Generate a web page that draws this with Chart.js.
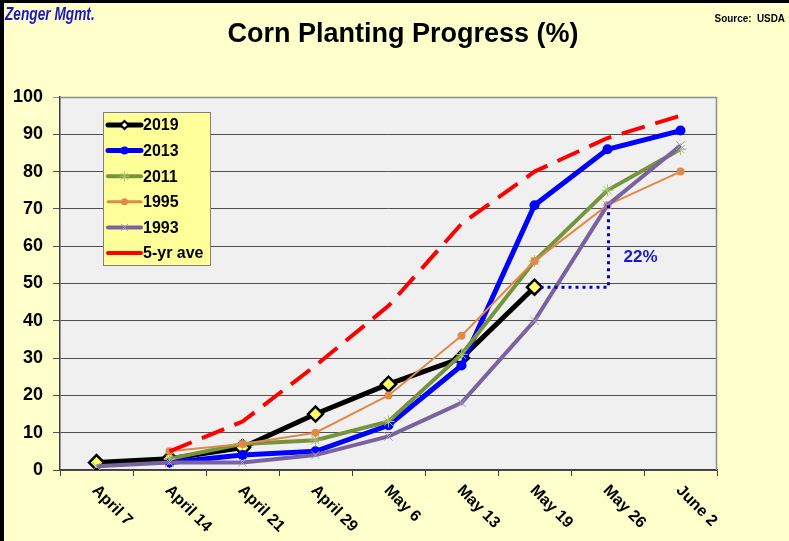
<!DOCTYPE html>
<html>
<head>
<meta charset="utf-8">
<script src="https://cdn.jsdelivr.net/npm/chart.js@4.4.1/dist/chart.umd.min.js"></script>
<style>
  html, body { margin: 0; padding: 0; background: #ffffcc; }
  #wrap { position: relative; width: 789px; height: 541px; overflow: hidden; }
  canvas { display: block; }
</style>
</head>
<body>
<div id="wrap"><canvas id="c" width="789" height="541"></canvas></div>
<script>
// ---- Data ----
const categories = ['April 7', 'April 14', 'April 21', 'April 29', 'May 6', 'May 13', 'May 19', 'May 26', 'June 2'];
const yTicks = [0, 10, 20, 30, 40, 50, 60, 70, 80, 90, 100];
const seriesNames = ['2019', '2013', '2011', '1995', '1993', '5-yr ave'];
const y2019 = [2, 3, 6, 15, 23, 30, 49, null, null];
const y2013 = [null, 2, 4, 5, 12, 28, 71, 86, 91];
const y2011 = [null, 3, 7, 8, 13, 31, 56, 75, 86];
const y1995 = [null, 5, 7, 10, 20, 36, 56, 71, 80];
const y1993 = [1, 2, 2, 4, 9, 18, 40, 71, 87];
const fiveYrAve = [null, 5, 13, 28, 44, 66, 80, 89, 95];
// gap annotation: 2019 at May 19 vs. May 26 level
const gapFromIndex = 6, gapToIndex = 7;
const gapFrom = 49, gapTo = 71;
const gapLabel = '22%';
const titleText = 'Corn Planting Progress (%)';
const brandText = 'Zenger Mgmt.';
const sourceText = 'Source:  USDA';

const FONT = '"Liberation Sans", Arial, sans-serif';

const datasets = [
  { label: seriesNames[0], data: y2019, borderColor: '#000000', backgroundColor: '#ffff66', borderWidth: 5,
    pointStyle: 'rectRot', pointRadius: 7.5, pointBorderWidth: 2.5, pointBorderColor: '#000000', pointBackgroundColor: '#ffff66', order: 6,
    legendPoint: { style: 'rectRot', r: 4, bg: '#ffffff', bc: '#000000', bw: 2 } },
  { label: seriesNames[1], data: y2013, borderColor: '#0000ff', backgroundColor: '#0000ff', borderWidth: 5,
    pointStyle: 'circle', pointRadius: 5, pointBorderWidth: 0, pointBackgroundColor: '#0000ff', order: 5,
    legendPoint: { style: 'circle', r: 4, bg: '#0000ff', bc: '#0000ff', bw: 0 } },
  { label: seriesNames[2], data: y2011, borderColor: '#77933c', backgroundColor: '#77933c', borderWidth: 4,
    pointStyle: 'star', pointRadius: 6, pointBorderWidth: 1, pointBorderColor: '#a8c070', pointBackgroundColor: 'transparent', order: 4,
    legendPoint: { style: 'star', r: 5, bg: 'transparent', bc: '#a8c070', bw: 1 } },
  { label: seriesNames[3], data: y1995, borderColor: '#e08a48', backgroundColor: '#e08a48', borderWidth: 2,
    pointStyle: 'circle', pointRadius: 4, pointBorderWidth: 0, pointBackgroundColor: '#e08a48', order: 3,
    legendPoint: { style: 'circle', r: 3.5, bg: '#e08a48', bc: '#e08a48', bw: 0 } },
  { label: seriesNames[4], data: y1993, borderColor: '#7962a0', backgroundColor: '#7962a0', borderWidth: 4,
    pointStyle: 'crossRot', pointRadius: 6, pointBorderWidth: 1, pointBorderColor: '#a89cc0', pointBackgroundColor: 'transparent', order: 2,
    legendPoint: { style: 'crossRot', r: 5, bg: 'transparent', bc: '#a89cc0', bw: 1 } },
  { label: seriesNames[5], data: fiveYrAve, borderColor: '#ff0000', backgroundColor: '#ff0000', borderWidth: 4,
    borderDash: [24, 11], pointRadius: 0, pointHoverRadius: 0, order: 1,
    legendPoint: null }
];
datasets.forEach(d => { d.fill = false; d.tension = 0; d.spanGaps = false; });

const decorPlugin = {
  id: 'decor',
  beforeDraw(chart) {
    const ctx = chart.ctx, a = chart.chartArea;
    ctx.save();
    ctx.fillStyle = '#ffffcc';
    ctx.fillRect(0, 0, chart.width, chart.height);
    ctx.fillStyle = '#f0f0f0';
    ctx.fillRect(a.left, a.top, a.right - a.left, a.bottom - a.top);
    // page frame (left/top)
    ctx.fillStyle = '#000000';
    ctx.fillRect(0, 0, chart.width, 3);
    ctx.fillRect(0, 0, 4, chart.height);
    // texts
    ctx.fillStyle = '#000000';
    ctx.font = 'bold 27px ' + FONT;
    ctx.textAlign = 'center';
    ctx.textBaseline = 'alphabetic';
    ctx.fillText(titleText, 403, 42);
    // condensed brand text
    ctx.save();
    ctx.translate(5, 20);
    ctx.scale(0.76, 1);
    ctx.font = 'italic bold 18px ' + FONT;
    ctx.fillStyle = '#1818c0';
    ctx.textAlign = 'left';
    ctx.fillText(brandText, 0, 0);
    ctx.restore();
    ctx.save();
    ctx.translate(785, 22);
    ctx.scale(0.9, 1);
    ctx.font = 'bold 11px ' + FONT;
    ctx.fillStyle = '#000000';
    ctx.textAlign = 'right';
    ctx.fillText(sourceText, 0, 0);
    ctx.restore();
    ctx.restore();
  },
  afterDraw(chart) {
    const ctx = chart.ctx, a = chart.chartArea;
    const xs = chart.scales.x, ys = chart.scales.y;
    ctx.save();
    // plot border top/right
    ctx.strokeStyle = '#8c8c8c';
    ctx.lineWidth = 1.5;
    ctx.beginPath();
    ctx.moveTo(a.left, a.top + 0.5);
    ctx.lineTo(a.right - 0.5, a.top + 0.5);
    ctx.lineTo(a.right - 0.5, a.bottom);
    ctx.stroke();

    // rotated x labels
    ctx.fillStyle = '#000000';
    ctx.font = 'bold 16px ' + FONT;
    ctx.textAlign = 'left';
    ctx.textBaseline = 'middle';
    categories.forEach((lab, i) => {
      const x = xs.getPixelForValue(i);
      ctx.save();
      ctx.translate(x - 2, a.bottom + 18);
      ctx.rotate(Math.PI / 4);
      ctx.fillText(lab, 0, 0);
      ctx.restore();
    });

    // gap annotation
    const x0 = xs.getPixelForValue(gapFromIndex);
    const x1 = xs.getPixelForValue(gapToIndex) + 1;
    const yA = ys.getPixelForValue(gapFrom);
    const yB = ys.getPixelForValue(gapTo);
    ctx.strokeStyle = '#0000cc';
    ctx.lineWidth = 3;
    ctx.setLineDash([3, 4]);
    ctx.beginPath();
    ctx.moveTo(x0 + 6, yA);
    ctx.lineTo(x1, yA);
    ctx.lineTo(x1, yB);
    ctx.stroke();
    ctx.setLineDash([]);
    ctx.fillStyle = '#1a1acc';
    ctx.font = 'bold 17px ' + FONT;
    ctx.textAlign = 'left';
    ctx.textBaseline = 'middle';
    const labelY = ys.getPixelForValue(gapFrom + (gapTo - gapFrom) * 0.37);
    ctx.fillText(gapLabel, x1 + 15, labelY);

    // legend box
    const bx = 103.5, by = 112.5, bw = 107, bh = 153;
    ctx.fillStyle = '#ffff99';
    ctx.fillRect(bx, by, bw, bh);
    ctx.strokeStyle = '#808080';
    ctx.lineWidth = 1;
    ctx.strokeRect(bx, by, bw, bh);
    chart.data.datasets.forEach((d, i) => {
      const yy = 125 + i * 25.6;
      ctx.save();
      ctx.strokeStyle = d.borderColor;
      ctx.lineWidth = Math.max(d.borderWidth, 3);
      if (d.borderDash) ctx.lineWidth = 4;
      ctx.lineCap = 'round';
      ctx.beginPath();
      ctx.moveTo(108, yy);
      ctx.lineTo(141, yy);
      ctx.stroke();
      ctx.restore();
      const lp = d.legendPoint;
      if (lp) {
        ctx.save();
        ctx.fillStyle = lp.bg;
        ctx.strokeStyle = lp.bc;
        ctx.lineWidth = lp.bw;
        Chart.helpers.drawPoint(ctx, { pointStyle: lp.style, radius: lp.r, borderWidth: lp.bw, rotation: 0 }, 124.5, yy);
        ctx.restore();
      }
      ctx.fillStyle = '#000000';
      ctx.font = 'bold 16px ' + FONT;
      ctx.textAlign = 'left';
      ctx.textBaseline = 'middle';
      ctx.fillText(d.label, 143, yy + 1);
    });
    ctx.restore();
  }
};

new Chart(document.getElementById('c'), {
  type: 'line',
  data: { labels: categories, datasets: datasets },
  options: {
    responsive: false,
    animation: false,
    devicePixelRatio: 1,
    layout: { padding: { top: 97, right: 72, left: 0, bottom: 0 } },
    plugins: { legend: { display: false }, title: { display: false }, tooltip: { enabled: false } },
    scales: {
      x: {
        type: 'category',
        offset: true,
        grid: { display: true, drawOnChartArea: false, drawTicks: true, tickLength: 6, color: '#404040', lineWidth: 1, offset: true },
        border: { display: true, color: '#404040', width: 1.5 },
        ticks: { display: false },
        afterFit(s) { s.height = 71; }
      },
      y: {
        min: 0, max: 100,
        afterBuildTicks(s) { s.ticks = yTicks.map(v => ({ value: v })); },
        grid: {
          color: ctx => (ctx.tick && ctx.tick.value === 100) ? '#8c8c8c' : '#505050',
          lineWidth: 1, drawTicks: true, tickLength: 7
        },
        border: { display: true, color: '#404040', width: 1.5 },
        ticks: { color: '#000000', font: { family: FONT, size: 18, weight: 'bold' }, padding: 10 },
        afterFit(s) { s.width = 60; }
      }
    }
  },
  plugins: [decorPlugin]
});
</script>
</body>
</html>
